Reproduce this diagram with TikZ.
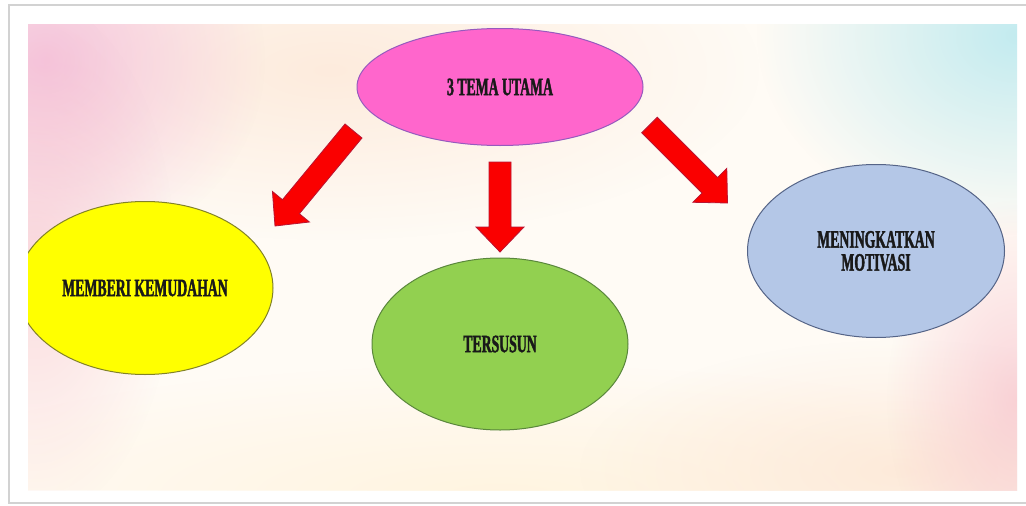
\documentclass[tikz,border=0pt]{standalone}
\usepackage{fontspec}
\usetikzlibrary{shapes.geometric,calc,fadings}
\newfontfamily\lblfont{Liberation Serif}[FakeStretch=0.55,FakeBold=1.5]
\definecolor{bgbase}{RGB}{255,251,245}
\definecolor{pinkfill}{RGB}{255,102,204}
\definecolor{pinkline}{RGB}{150,90,190}
\definecolor{yelfill}{RGB}{255,255,0}
\definecolor{yelline}{RGB}{130,130,40}
\definecolor{grnfill}{RGB}{146,208,80}
\definecolor{grnline}{RGB}{90,135,60}
\definecolor{blufill}{RGB}{180,199,231}
\definecolor{bluline}{RGB}{85,100,135}
\definecolor{arrfill}{RGB}{250,0,0}
\definecolor{arrline}{RGB}{185,20,50}
\definecolor{blobpink}{RGB}{240,165,210}
\definecolor{blobrose}{RGB}{245,180,195}
\definecolor{blobpeach}{RGB}{252,225,205}
\definecolor{blobcyan}{RGB}{175,230,238}
\definecolor{blobcream}{RGB}{255,240,210}
\tikzfading[name=softblob, inner color=transparent!0, outer color=transparent!100]
\newcommand\blockarrow[2]{%
  \path ($(#2)!25pt!(#1)$) coordinate (hb);
  \draw[blk] ($(#1)!11pt!90:(#2)$) -- ($(hb)!11pt!90:(#2)$) -- ($(hb)!24pt!90:(#2)$)
    -- (#2) -- ($(hb)!24pt!-90:(#2)$) -- ($(hb)!11pt!-90:(#2)$) -- ($(#1)!11pt!-90:(#2)$) -- cycle;}
\begin{document}
\begin{tikzpicture}[x=1pt,y=-1pt,
  bubble/.style={ellipse, draw, line width=1pt, align=center, inner sep=0pt,
    font=\lblfont\bfseries\fontsize{25}{23}\selectfont, text=black!90},
  blk/.style={fill=arrfill, draw=arrline, line width=0.8pt, line join=miter},
  blob/.style={path fading=softblob}]
\useasboundingbox (0,0) rectangle (1026,506);
\fill[white] (0,0) rectangle (1026,506);
\draw[gray!35, line width=2pt] (9,5) rectangle (1040,503);
\begin{scope}
  \clip (28,24) rectangle (1017,490);
  \fill[bgbase] (28,24) rectangle (1017,490);
  \fill[blobpeach, blob, fill opacity=0.6] (330,70) ellipse (430 and 170);
  \fill[blobcream, blob, fill opacity=0.6] (500,495) ellipse (620 and 130);
  \fill[blobpeach, blob, fill opacity=0.6] (900,470) ellipse (320 and 130);
  \fill[blobpink, blob, fill opacity=0.6] (45,60) ellipse (220 and 200);
  \fill[blobrose, blob, fill opacity=0.45] (35,260) ellipse (140 and 260);
  \fill[blobcyan, blob, fill opacity=0.75] (1017,35) ellipse (260 and 200);
  \fill[blobrose, blob, fill opacity=0.55] (1017,400) ellipse (130 and 200);
  \node[bubble, fill=yelfill, draw=yelline, minimum width=256pt, minimum height=173pt]
    (mk) at (145,288) {MEMBERI KEMUDAHAN};
\end{scope}
\node[bubble, fill=pinkfill, draw=pinkline, minimum width=286pt, minimum height=117pt]
  (top) at (500,87) {3 TEMA UTAMA};
\node[bubble, fill=grnfill, draw=grnline, minimum width=256pt, minimum height=172pt]
  (ts) at (500,344) {TERSUSUN};
\node[bubble, fill=blufill, draw=bluline, minimum width=257pt, minimum height=173pt]
  (mm) at (876,251) {MENINGKATKAN\\MOTIVASI};
\coordinate (la) at (353.5,131);
\coordinate (lb) at (275,226);
\coordinate (ca) at (500,162);
\coordinate (cb) at (500,252);
\coordinate (ra) at (649.5,125);
\coordinate (rb) at (727.5,203);
\blockarrow{la}{lb}
\blockarrow{ca}{cb}
\blockarrow{ra}{rb}
\end{tikzpicture}
\end{document}
